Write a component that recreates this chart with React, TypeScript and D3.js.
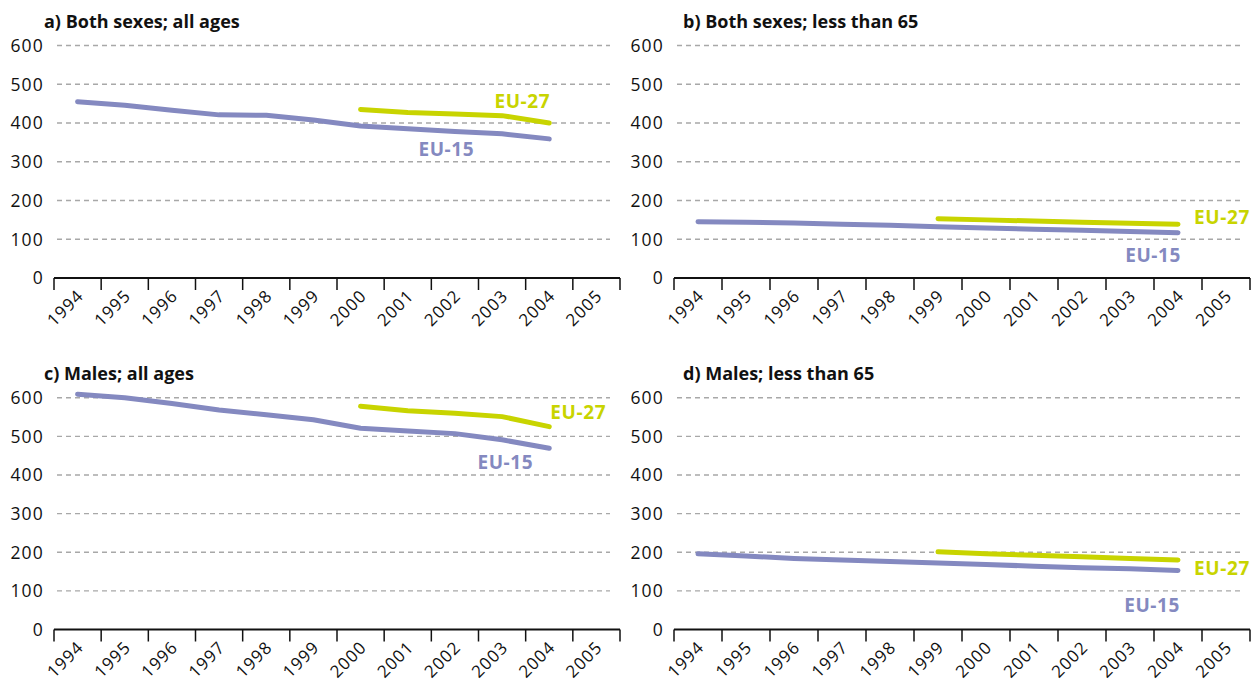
import React from "react";
import * as d3 from "d3";

const years = ["1994","1995","1996","1997","1998","1999","2000","2001","2002","2003","2004","2005"];
const yTicks = [0, 100, 200, 300, 400, 500, 600];

// a) Both sexes; all ages
const aEU15 = [455, 446, 433, 421, 420, 408, 392, 385, 378, 372, 359];
const aEU27Years = ["2000","2001","2002","2003","2004"];
const aEU27 = [435, 427, 423, 419, 400];
// b) Both sexes; less than 65
const bEU15 = [145, 144, 142, 139, 136, 132, 129, 126, 123, 120, 117];
const bEU27Years = ["1999","2000","2001","2002","2003","2004"];
const bEU27 = [153, 150, 147, 144, 141, 139];
// c) Males; all ages
const cEU15 = [609, 600, 585, 568, 556, 543, 521, 514, 507, 491, 469];
const cEU27Years = ["2000","2001","2002","2003","2004"];
const cEU27 = [578, 566, 560, 551, 525];
// d) Males; less than 65
const dEU15 = [196, 190, 184, 180, 176, 172, 168, 164, 160, 157, 153];
const dEU27Years = ["1999","2000","2001","2002","2003","2004"];
const dEU27 = [201, 196, 192, 188, 184, 180];

const C15 = "#8489c0";
const C27 = "#c8d400";
const FONT = "'Open Sans', 'Noto Sans', sans-serif";

type Lbl = { dx: number; dy: number; anchor: string };
type PanelCfg = {
  title: string;
  x0: number; x1: number; y0: number; y600: number; titleX: number;
  eu15: number[]; eu27Years: string[]; eu27: number[];
  l15: Lbl; l27: Lbl;
};

const panels: PanelCfg[] = [
  { title: "a) Both sexes; all ages", x0: 54, x1: 620, y0: 278, y600: 45.5, titleX: 44,
    eu15: aEU15, eu27Years: aEU27Years, eu27: aEU27,
    l15: { dx: -75, dy: 17, anchor: "end" }, l27: { dx: 1, dy: -15, anchor: "end" } },
  { title: "b) Both sexes; less than 65", x0: 674, x1: 1250, y0: 278, y600: 45.5, titleX: 683,
    eu15: bEU15, eu27Years: bEU27Years, eu27: bEU27,
    l15: { dx: 3, dy: 29, anchor: "end" }, l27: { dx: 16, dy: 0, anchor: "start" } },
  { title: "c) Males; all ages", x0: 54, x1: 620, y0: 629.5, y600: 397.7, titleX: 44,
    eu15: cEU15, eu27Years: cEU27Years, eu27: cEU27,
    l15: { dx: -16, dy: 21, anchor: "end" }, l27: { dx: 1, dy: -8, anchor: "start" } },
  { title: "d) Males; less than 65", x0: 674, x1: 1250, y0: 629.5, y600: 397.7, titleX: 683,
    eu15: dEU15, eu27Years: dEU27Years, eu27: dEU27,
    l15: { dx: 2, dy: 42, anchor: "end" }, l27: { dx: 16, dy: 15, anchor: "start" } },
];

function Panel({ p }: { p: PanelCfg }) {
  const x = d3.scaleBand<string>().domain(years).range([p.x0, p.x1]).padding(0);
  const y = d3.scaleLinear().domain([0, 600]).range([p.y0, p.y600]);
  const bw = x.bandwidth();
  const cx = (yr: string) => (x(yr) as number) + bw / 2;
  const line = d3.line<[number, number]>().x(d => d[0]).y(d => d[1]);
  const pts15: [number, number][] = p.eu15.map((v, i) => [cx(years[i]), y(v)]);
  const pts27: [number, number][] = p.eu27.map((v, i) => [cx(p.eu27Years[i]), y(v)]);
  const last15 = pts15[pts15.length - 1];
  const last27 = pts27[pts27.length - 1];
  const tickXs = d3.range(years.length + 1).map(i => p.x0 + i * bw);
  return (
    <g>
      <text x={p.titleX} y={p.y600 - 18} fontFamily={FONT} fontWeight={700} fontSize={18} fill="#111">{p.title}</text>
      {yTicks.map(t => (
        <g key={t}>
          {t > 0 && (
            <line x1={p.x0 + 3} x2={p.x1 - 10} y1={y(t)} y2={y(t)} stroke="#a8a8a8" strokeWidth={1.4} strokeDasharray="5,4" />
          )}
          <text x={p.x0 - 10} y={y(t)} dy="0.36em" textAnchor="end" fontFamily={FONT} fontSize={17.5} letterSpacing={1.2} fill="#111">{t}</text>
        </g>
      ))}
      <path d={line(pts15) || ""} fill="none" stroke={C15} strokeWidth={5} strokeLinecap="round" strokeLinejoin="round" />
      <path d={line(pts27) || ""} fill="none" stroke={C27} strokeWidth={5} strokeLinecap="round" strokeLinejoin="round" />
      <line x1={p.x0} x2={p.x1} y1={p.y0} y2={p.y0} stroke="#111" strokeWidth={2} />
      {tickXs.map((tx, i) => (
        <line key={i} x1={tx} x2={tx} y1={p.y0} y2={p.y0 + 12} stroke="#111" strokeWidth={1.5} />
      ))}
      {years.map(yr => (
        <text key={yr} transform={`translate(${cx(yr) + 7},${p.y0 + 19}) rotate(-45)`} textAnchor="end"
          fontFamily={FONT} fontSize={17} letterSpacing={1} fill="#111">{yr}</text>
      ))}
      <text x={last27[0] + p.l27.dx} y={last27[1] + p.l27.dy} textAnchor={p.l27.anchor} fontFamily={FONT}
        fontWeight={700} fontSize={19} letterSpacing={0.6} fill={C27}>EU-27</text>
      <text x={last15[0] + p.l15.dx} y={last15[1] + p.l15.dy} textAnchor={p.l15.anchor} fontFamily={FONT}
        fontWeight={700} fontSize={19} letterSpacing={0.6} fill={C15}>EU-15</text>
    </g>
  );
}

export default function App() {
  return (
    <svg width={1258} height={684} style={{ position: "absolute", left: 0, top: 0, background: "#fff" }}>
      {panels.map((p, i) => <Panel key={i} p={p} />)}
    </svg>
  );
}
